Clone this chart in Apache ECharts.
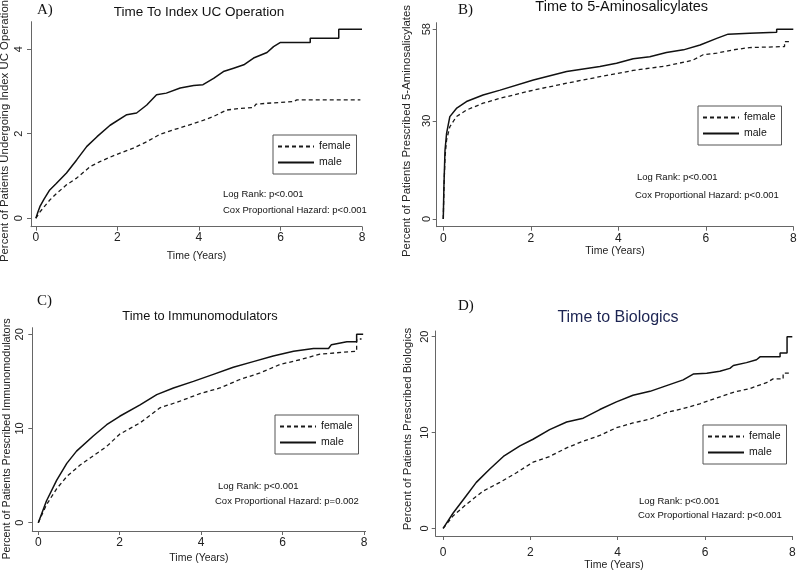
<!DOCTYPE html>
<html><head><meta charset="utf-8">
<script src="https://cdn.jsdelivr.net/npm/echarts@6/dist/echarts.min.js"></script>
<style>html,body{margin:0;padding:0;background:#fff}#c{width:800px;height:572px}</style>
</head><body><div id="c"></div>
<script>
// ---- data (time in years, percent) ----
const xTicks = [0, 2, 4, 6, 8];
const yTicksA = [0, 2, 4];
const yTicksB = [0, 30, 58];
const yTicksC = [0, 10, 20];
const yTicksD = [0, 10, 20];
const seriesNames = ['female', 'male'];

const ucFemale = [[0,0],[0.1,0.15],[0.34,0.43],[0.5,0.58],[0.75,0.79],[1.0,0.95],[1.33,1.22],[1.57,1.34],[1.98,1.51],[2.39,1.66],[2.72,1.81],[3.05,1.99],[3.37,2.09],[3.7,2.19],[4.03,2.29],[4.36,2.41],[4.68,2.56],[5.01,2.6],[5.34,2.62],[5.4,2.7],[5.67,2.72],[6.32,2.76],[6.4,2.8],[7.96,2.8]];
const ucMale = [[0,0],[0.05,0.15],[0.1,0.28],[0.2,0.45],[0.34,0.67],[0.5,0.82],[0.75,1.07],[1.0,1.38],[1.25,1.7],[1.5,1.93],[1.82,2.2],[2.23,2.45],[2.47,2.49],[2.72,2.68],[2.96,2.92],[3.2,2.96],[3.54,3.08],[3.87,3.14],[4.1,3.16],[4.36,3.31],[4.6,3.47],[4.85,3.55],[5.1,3.63],[5.34,3.79],[5.67,3.92],[5.83,4.06],[6.0,4.16],[6.73,4.16],[6.73,4.26],[7.43,4.26],[7.43,4.47],[8.0,4.47]];

const asaFemale = [[0,0],[0.015,9],[0.04,19],[0.076,24.2],[0.15,28.2],[0.3,31.3],[0.53,33.3],[0.91,35.4],[1.3,36.9],[2.06,39.4],[2.82,41.5],[3.58,43.5],[4.34,45.4],[5.1,46.8],[5.56,48.1],[5.71,48.6],[5.94,50.2],[6.25,50.7],[6.63,51.7],[7.0,52.4],[7.8,52.7],[7.8,54.2],[7.92,54.2]];
const asaMale = [[0,0],[0.015,10],[0.04,21],[0.076,26.2],[0.15,31.3],[0.3,33.8],[0.53,35.9],[0.91,37.9],[1.3,39.4],[2.06,42.5],[2.82,45.1],[3.58,46.6],[3.96,47.6],[4.34,49.0],[4.72,49.6],[5.1,50.9],[5.49,51.7],[5.87,53.2],[6.25,55.2],[6.51,56.5],[7.0,56.8],[7.62,57.1],[7.62,58.0],[8.0,58.0]];

const imFemale = [[0,0],[0.2,1.9],[0.45,3.6],[0.7,4.9],[1.02,6.1],[1.35,7.1],[1.68,8.1],[2.0,9.4],[2.5,10.6],[2.99,12.2],[3.48,12.9],[3.97,13.7],[4.46,14.3],[4.95,15.2],[5.45,15.9],[5.94,16.8],[6.43,17.3],[6.92,17.9],[7.82,18.2],[7.82,19.5],[7.94,19.5]];
const imMale = [[0,0],[0.2,2.3],[0.45,4.5],[0.7,6.3],[0.94,7.6],[1.35,9.2],[1.68,10.4],[2.0,11.3],[2.5,12.5],[2.91,13.6],[3.32,14.3],[3.81,15.0],[4.3,15.75],[4.79,16.5],[5.28,17.1],[5.77,17.7],[6.27,18.2],[6.76,18.5],[7.13,18.5],[7.2,18.9],[7.58,19.2],[7.82,19.2],[7.82,20.0],[7.98,20.0]];

const bioFemale = [[0,0],[0.23,1.3],[0.53,2.5],[0.92,3.9],[1.3,4.8],[1.68,5.8],[2.06,6.9],[2.44,7.5],[2.83,8.4],[3.21,9.1],[3.59,9.7],[3.97,10.5],[4.35,11.0],[4.74,11.4],[5.12,12.1],[5.5,12.5],[5.88,13.0],[6.26,13.6],[6.65,14.2],[7.03,14.6],[7.41,15.2],[7.56,15.6],[7.79,15.6],[7.79,16.2],[7.98,16.2]];
const bioMale = [[0,0],[0.23,1.6],[0.53,3.4],[0.76,4.8],[1.07,6.2],[1.38,7.5],[1.76,8.6],[2.06,9.3],[2.44,10.3],[2.83,11.1],[3.21,11.5],[3.59,12.4],[3.97,13.2],[4.35,13.9],[4.74,14.3],[5.12,14.9],[5.5,15.5],[5.73,16.1],[6.04,16.2],[6.34,16.4],[6.57,16.7],[6.65,17.0],[6.95,17.3],[7.18,17.6],[7.26,17.9],[7.72,17.9],[7.72,18.3],[7.88,18.3],[7.88,20.0],[8.0,20.0]];

// ---- layout ----
const FONT = "'Liberation Sans', Arial, sans-serif";
const panels = [
  {grid:{left:31,top:21.7,width:331,height:205}, x:[-0.12,8.0], y:[-0.2,4.65], yTicks:yTicksA, data:[ucFemale,ucMale],
   yLabMargin:7, xLabMargin:5, xNameGap:24,
   title:'Time To Index UC Operation', tx:199, ty:12, tsize:13.5, tcolor:'#111',
   letter:'A)', lx:37, ly:10, yname:'Percent of Patients Undergoing Index UC Operation', ynx:5, yny:131, ynsize:11.4,
   legend:{left:273, top:135}, ann:[[223,194],[223,210]], annText:['Log Rank: p<0.001','Cox Proportional Hazard: p<0.001']},
  {grid:{left:436.7,top:22.7,width:356.6,height:204}, x:[-0.15,8.0], y:[-2.35,60.0], yTicks:yTicksB, data:[asaFemale,asaMale],
   yLabMargin:4.5, xLabMargin:6, xNameGap:15,
   title:'Time to 5-Aminosalicylates', tx:621.7, ty:7, tsize:14.5, tcolor:'#111',
   letter:'B)', lx:458, ly:10, yname:'Percent of Patients Prescribed 5-Aminosalicylates', ynx:407, yny:131, ynsize:11.4,
   legend:{left:698, top:106}, ann:[[637,177],[635,195]], annText:['Log Rank: p<0.001','Cox Proportional Hazard: p<0.001']},
  {grid:{left:32.3,top:327.7,width:333.3,height:203.3}, x:[-0.147,8.04], y:[-0.88,20.7], yTicks:yTicksC, data:[imFemale,imMale],
   yLabMargin:7, xLabMargin:6, xNameGap:21.5,
   title:'Time to Immunomodulators', tx:200, ty:316, tsize:12.8, tcolor:'#111',
   letter:'C)', lx:37, ly:301, yname:'Percent of Patients Prescribed Immunomodulators', ynx:7, yny:439, ynsize:10.8,
   legend:{left:275, top:415}, ann:[[218,486],[215,501]], annText:['Log Rank: p<0.001','Cox Proportional Hazard: p=0.002']},
  {grid:{left:435.7,top:331,width:356.6,height:205}, x:[-0.17,8.0], y:[-0.8,20.6], yTicks:yTicksD, data:[bioFemale,bioMale],
   yLabMargin:5, xLabMargin:11, xNameGap:22.5,
   title:'Time to Biologics', tx:618, ty:318, tsize:16, tcolor:'#1c2452',
   letter:'D)', lx:458, ly:306, yname:'Percent of Patients Prescribed Biologics', ynx:408, yny:429, ynsize:11.4,
   legend:{left:703, top:425}, ann:[[639,501],[638,515]], annText:['Log Rank: p<0.001','Cox Proportional Hazard: p<0.001']}
];

const axisLine = {lineStyle:{color:'#666', width:1}};
const axisTick = {length:4, lineStyle:{color:'#666', width:1}};
const option = {animation:false, backgroundColor:'#fff', grid:[], xAxis:[], yAxis:[], series:[], legend:[], graphic:[]};

panels.forEach((p, i) => {
  option.grid.push(Object.assign({containLabel:false}, p.grid));
  option.xAxis.push({type:'value', gridIndex:i, min:p.x[0], max:p.x[1],
    axisLine:Object.assign({onZero:false}, axisLine), axisTick:Object.assign({customValues:xTicks}, axisTick),
    axisLabel:{customValues:xTicks, color:'#222', fontSize:12, fontFamily:FONT, margin:p.xLabMargin},
    splitLine:{show:false},
    name:'Time (Years)', nameLocation:'middle', nameGap:p.xNameGap, nameTextStyle:{color:'#222', fontSize:10.5, fontFamily:FONT}});
  option.yAxis.push({type:'value', gridIndex:i, min:p.y[0], max:p.y[1],
    axisLine:Object.assign({onZero:false}, axisLine), axisTick:Object.assign({customValues:p.yTicks}, axisTick),
    axisLabel:{customValues:p.yTicks, rotate:90, color:'#222', fontSize:11, fontFamily:FONT, margin:p.yLabMargin},
    splitLine:{show:false}});
  seriesNames.forEach((nm, k) => {
    option.series.push({type:'line', name:nm, xAxisIndex:i, yAxisIndex:i, data:p.data[k], symbol:'none', showSymbol:false,
      lineStyle:{color: k===0 ? '#1a1a1a' : '#111', width: k===0 ? 1.3 : 1.5, type: k===0 ? [4,3] : 'solid'},
      itemStyle:{color:'#111'}, z: k===0 ? 2 : 3});
  });
  option.legend.push({data:seriesNames, orient:'vertical', left:p.legend.left, top:p.legend.top,
    itemWidth:36, itemHeight:10, itemGap:5, padding:[6,6,6,4], borderColor:'#555', borderWidth:1,
    itemStyle:{opacity:0, borderWidth:0}, selectedMode:false, textStyle:{fontSize:10.5, fontFamily:FONT, color:'#111'}});
  option.graphic.push({type:'text', x:p.tx, y:p.ty, style:{text:p.title, font:`${p.tsize}px ${FONT}`, fill:p.tcolor, textAlign:'center', textVerticalAlign:'middle'}, silent:true});
  option.graphic.push({type:'text', x:p.lx, y:p.ly, style:{text:p.letter, font:`15px 'Liberation Serif', 'Times New Roman', serif`, fill:'#111', textVerticalAlign:'middle'}, silent:true});
  option.graphic.push({type:'text', x:p.ynx, y:p.yny, rotation:Math.PI/2, style:{text:p.yname, font:`${p.ynsize}px ${FONT}`, fill:'#222', textAlign:'center', textVerticalAlign:'middle'}, silent:true});
  p.ann.forEach((a, j) => {
    option.graphic.push({type:'text', x:a[0], y:a[1], style:{text:p.annText[j], font:`9.5px ${FONT}`, fill:'#111', textVerticalAlign:'middle'}, silent:true});
  });
});

const chart = echarts.init(document.getElementById('c'), null, {renderer:'canvas'});
chart.setOption(option);
</script></body></html>
